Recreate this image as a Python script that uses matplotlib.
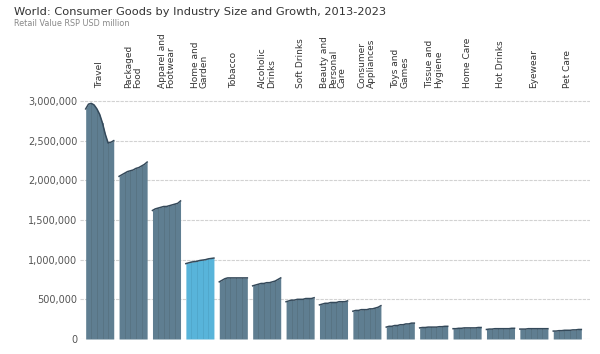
import numpy as np
import matplotlib
matplotlib.use("Agg")
import matplotlib.pyplot as plt

matplotlib.rcParams['font.family'] = ['DejaVu Sans']

# data (USD million, 2013-2023)
years = list(range(2013, 2024))
categories = ["Travel", "Packaged\nFood", "Apparel and\nFootwear", "Home and\nGarden", "Tobacco",
              "Alcoholic\nDrinks", "Soft Drinks", "Beauty and\nPersonal\nCare", "Consumer\nAppliances",
              "Toys and\nGames", "Tissue and\nHygiene", "Home Care", "Hot Drinks", "Eyewear", "Pet Care"]
travel = [2900000, 2960000, 2970000, 2950000, 2900000, 2830000, 2720000, 2580000, 2470000, 2480000, 2500000]
packaged_food = [2050000, 2070000, 2090000, 2110000, 2120000, 2130000, 2150000, 2160000, 2180000, 2200000, 2230000]
apparel = [1620000, 1640000, 1650000, 1660000, 1670000, 1670000, 1680000, 1690000, 1700000, 1710000, 1740000]
home_garden = [950000, 960000, 970000, 975000, 980000, 990000, 995000, 1000000, 1010000, 1015000, 1020000]
tobacco = [720000, 740000, 760000, 770000, 770000, 770000, 770000, 770000, 770000, 770000, 770000]
alcoholic = [670000, 680000, 690000, 700000, 700000, 710000, 710000, 720000, 730000, 750000, 770000]
soft_drinks = [470000, 480000, 490000, 490000, 500000, 500000, 500000, 510000, 510000, 510000, 520000]
beauty = [430000, 440000, 450000, 450000, 460000, 460000, 460000, 470000, 470000, 470000, 480000]
appliances = [350000, 360000, 360000, 370000, 370000, 370000, 380000, 380000, 390000, 400000, 420000]
toys = [150000, 160000, 160000, 170000, 170000, 180000, 180000, 190000, 190000, 200000, 200000]
tissue = [140000, 145000, 145000, 150000, 150000, 150000, 150000, 155000, 155000, 160000, 160000]
home_care = [130000, 130000, 135000, 135000, 140000, 140000, 140000, 140000, 140000, 145000, 145000]
hot_drinks = [120000, 125000, 125000, 130000, 130000, 130000, 130000, 130000, 130000, 135000, 135000]
eyewear = [125000, 125000, 125000, 130000, 130000, 130000, 130000, 130000, 130000, 130000, 130000]
pet_care = [100000, 100000, 105000, 105000, 110000, 110000, 110000, 115000, 115000, 120000, 120000]

series = [travel, packaged_food, apparel, home_garden, tobacco, alcoholic, soft_drinks, beauty,
          appliances, toys, tissue, home_care, hot_drinks, eyewear, pet_care]
highlight = "Home and\nGarden"
yticks = [0, 500000, 1000000, 1500000, 2000000, 2500000, 3000000]

fig = plt.figure(figsize=(6, 3.54), dpi=100)
ax = fig.add_axes([80 / 600, 1 - 339 / 354, 510 / 600, 242 / 354])

width = 0.84  # 每个小面积图占的宽度
for i, (cat, vals) in enumerate(zip(categories, series)):
    x = i + np.linspace(0, width, len(years))
    fc = '#58b4da' if cat == highlight else '#5f7e91'
    lc = '#4fa3c6' if cat == highlight else '#56707f'
    ax.fill_between(x, 0, vals, color=fc, lw=0, zorder=2)
    # 每两年一条竖线
    for k in range(2, len(years) - 1, 2):
        ax.plot([x[k], x[k]], [0, vals[k]], color=lc, lw=0.5, zorder=3)
    ax.plot(x, vals, color='#34495a', lw=1.1, zorder=4)
    # 顶部类别标签
    ax.annotate(cat, xy=(i + width / 2, 1 - 88 / 354), xycoords=('data', 'figure fraction'),
                rotation=90, ha='center', va='bottom', multialignment='left',
                fontsize=6.5, color='#333333', linespacing=1.0)

ax.set_xlim(-0.17, 15.1)
ax.set_ylim(0, 3050000)
ax.set_yticks(yticks)
ax.set_yticklabels([f'{v:,}' for v in yticks])
ax.set_xticks([])
ax.tick_params(axis='y', length=0, labelsize=7, labelcolor='#555555', pad=2)
ax.grid(axis='y', color='#d2d2d2', lw=0.8, ls=(0, (3, 1)), zorder=0)
for s in ax.spines.values():
    s.set_visible(False)

fig.text(14 / 600, 1 - 12 / 354, "World: Consumer Goods by Industry Size and Growth, 2013-2023",
         fontsize=8.2, color='#333333', va='center', ha='left')
fig.text(14 / 600, 1 - 24 / 354, "Retail Value RSP USD million",
         fontsize=5.9, color='#888888', va='center', ha='left')

plt.savefig("out.png", dpi=100)
